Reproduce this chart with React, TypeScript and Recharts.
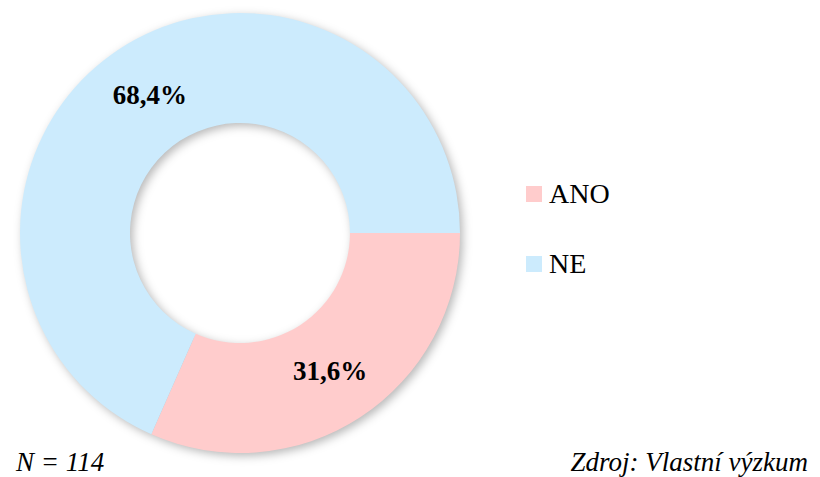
import React from 'react';
import { PieChart, Pie, Cell, Legend } from 'recharts';

const categories = ['ANO', 'NE'];
const values = [31.6, 68.4];
const colors = ['#FFCCCC', '#CCEBFD'];
const footerLeft = 'N = 114';
const footerRight = 'Zdroj: Vlastní výzkum';

const data = categories.map((name, i) => ({ name, value: values[i] }));

const SERIF = "'Liberation Serif', 'Times New Roman', 'DejaVu Serif', serif";

const RADIAN = Math.PI / 180;
const renderLabel = (props: any) => {
  const { cx, cy, midAngle, innerRadius, outerRadius, value } = props;
  const r = (innerRadius + outerRadius) / 2;
  const x = cx + r * Math.cos(-midAngle * RADIAN);
  const y = cy + r * Math.sin(-midAngle * RADIAN);
  return (
    <text
      x={x}
      y={y}
      textAnchor="middle"
      dominantBaseline="central"
      fill="#000"
      style={{ fontFamily: SERIF, fontWeight: 'bold', fontSize: 27 }}
    >
      {value.toFixed(1).replace('.', ',')}%
    </text>
  );
};

const renderLegend = () => (
  <div style={{ fontFamily: SERIF, fontSize: 28, color: '#000' }}>
    {categories.map((c, i) => (
      <div key={c} style={{ display: 'flex', alignItems: 'center', height: 32, marginBottom: i === 0 ? 38 : 0 }}>
        <span style={{ display: 'inline-block', width: 16, height: 16, background: colors[i], marginRight: 7 }} />
        <span>{c}</span>
      </div>
    ))}
  </div>
);

export default function App() {
  return (
    <div style={{ position: 'absolute', left: 0, top: 0, width: 820, height: 477, background: '#fff' }}>
      <style>{`.donut-shadow { filter: blur(3px); }`}</style>
      <PieChart width={820} height={477} margin={{ top: 0, right: 0, bottom: 0, left: 0 }}>
        <Pie
          data={data}
          dataKey="value"
          cx={243}
          cy={236}
          innerRadius={110}
          outerRadius={220}
          startAngle={0}
          endAngle={-360}
          stroke="none"
          className="donut-shadow"
          fill="rgba(0,0,0,0.28)"
          legendType="none"
          isAnimationActive={false}
        />
        <Pie
          data={data}
          dataKey="value"
          nameKey="name"
          cx={240}
          cy={233}
          innerRadius={110}
          outerRadius={220}
          startAngle={0}
          endAngle={-360}
          stroke="none"
          label={renderLabel}
          labelLine={false}
          isAnimationActive={false}
        >
          {data.map((d, i) => (
            <Cell key={d.name} fill={colors[i]} />
          ))}
        </Pie>
        <Legend
          content={renderLegend}
          wrapperStyle={{ left: 526, top: 178, width: 200 }}
        />
      </PieChart>
      <div
        style={{
          position: 'absolute',
          left: 16,
          top: 447,
          fontFamily: SERIF,
          fontStyle: 'italic',
          fontSize: 27,
          lineHeight: '30px',
          color: '#000',
        }}
      >
        {footerLeft}
      </div>
      <div
        style={{
          position: 'absolute',
          right: 12,
          top: 447,
          fontFamily: SERIF,
          fontStyle: 'italic',
          fontSize: 27,
          lineHeight: '30px',
          color: '#000',
        }}
      >
        {footerRight}
      </div>
    </div>
  );
}
